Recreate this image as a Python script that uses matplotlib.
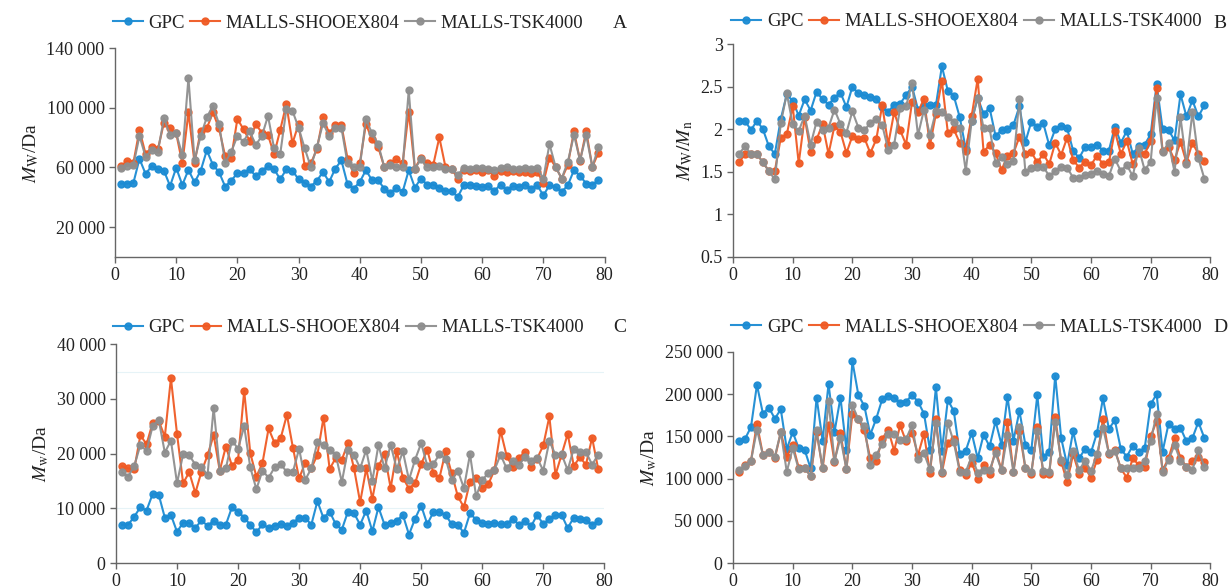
import numpy as np
import matplotlib
matplotlib.use("Agg")
import matplotlib.pyplot as plt
from matplotlib.ticker import FuncFormatter

# sample numbers 1..79
samples = np.arange(1, 80)
series_names = ["GPC", "MALLS-SHOOEX804", "MALLS-TSK4000"]

# A: Mw (x1000 Da)
a_gpc = [49.2, 49.2, 49.6, 65.8, 55.7, 61.0, 58.7, 57.8, 47.6, 59.8,
         48.3, 58.4, 50.0, 57.8, 71.5, 61.8, 56.9, 47.2, 51.2, 56.2,
         56.2, 58.9, 54.2, 57.8, 60.9, 58.9, 52.1, 58.7, 57.8, 52.1,
         49.7, 47.2, 51.2, 57.0, 50.3, 59.3, 64.7, 48.8, 45.8, 50.3,
         58.2, 51.5, 51.5, 45.8, 42.9, 46.5, 43.6, 58.2, 46.5, 52.6,
         48.5, 48.5, 46.5, 44.3, 44.3, 40.2, 48.1, 48.5, 47.4, 47.0,
         47.4, 44.3, 48.5, 44.7, 47.4, 47.0, 48.5, 45.8, 48.1, 41.3,
         48.1, 47.0, 43.6, 48.1, 58.2, 54.4, 49.2, 48.5, 51.5]
a_shoo = [60.9, 64.3, 63.1, 85.2, 69.0, 73.5, 72.1, 90.1, 86.3, 83.0,
          62.7, 96.9, 63.1, 84.7, 86.3, 96.9, 86.3, 67.6, 66.7, 92.6,
          85.6, 78.0, 89.0, 83.4, 81.8, 68.8, 85.2, 102.5, 76.2, 89.2,
          60.9, 62.7, 72.4, 93.7, 83.0, 88.5, 88.5, 66.0, 56.0, 62.7,
          89.2, 78.9, 73.9, 60.4, 62.7, 65.4, 62.7, 97.5, 59.3, 66.7,
          62.7, 61.6, 80.2, 60.4, 59.3, 52.6, 58.2, 57.8, 58.2, 57.1,
          58.2, 54.2, 57.8, 57.1, 57.8, 57.1, 57.1, 56.4, 57.1, 49.7,
          66.7, 60.4, 52.6, 61.6, 84.5, 64.5, 84.5, 60.4, 69.9]
a_tsk = [59.8, 61.1, 61.6, 81.1, 67.2, 71.7, 70.6, 93.0, 81.8, 83.0,
         68.3, 120.0, 64.9, 81.1, 93.7, 101.3, 89.2, 63.1, 70.6, 81.1,
         77.3, 84.5, 75.1, 81.1, 94.6, 72.8, 69.0, 99.1, 98.0, 86.7,
         72.8, 60.4, 73.9, 89.7, 81.1, 86.3, 86.7, 62.7, 60.4, 60.4,
         92.4, 83.0, 75.7, 60.4, 61.6, 60.4, 60.4, 111.7, 59.3, 65.4,
         60.4, 60.4, 60.9, 59.3, 59.3, 54.8, 59.8, 59.3, 59.8, 59.8,
         59.3, 58.2, 59.8, 60.4, 59.3, 59.3, 59.8, 59.3, 59.8, 52.6,
         75.7, 60.4, 52.6, 63.8, 81.8, 64.9, 81.8, 60.4, 73.5]

# B: Mw/Mn
b_gpc = [2.10, 2.10, 1.99, 2.10, 2.00, 1.80, 1.71, 2.12, 2.41, 2.33,
         2.16, 2.35, 2.22, 2.44, 2.35, 2.29, 2.37, 2.43, 2.26, 2.50,
         2.42, 2.40, 2.38, 2.36, 2.26, 2.20, 2.29, 2.30, 2.40, 2.50,
         2.23, 2.27, 2.28, 2.28, 2.74, 2.45, 2.39, 2.14, 1.77, 2.10,
         2.37, 2.18, 2.25, 1.92, 1.99, 2.00, 2.05, 2.27, 1.85, 2.09,
         2.03, 2.07, 1.81, 2.00, 2.04, 2.01, 1.75, 1.66, 1.79, 1.79,
         1.82, 1.75, 1.75, 2.03, 1.84, 1.98, 1.71, 1.80, 1.82, 1.94,
         2.53, 2.00, 1.99, 1.87, 2.41, 2.15, 2.34, 2.15, 2.28]
b_shoo = [1.61, 1.71, 1.71, 1.71, 1.61, 1.51, 1.51, 1.90, 1.94, 2.27,
          1.60, 2.14, 1.73, 1.88, 2.06, 1.71, 2.04, 1.97, 1.72, 1.92,
          1.88, 1.90, 1.72, 1.88, 2.28, 1.82, 2.20, 1.99, 1.82, 2.32,
          2.20, 2.36, 1.81, 2.18, 2.57, 1.96, 2.00, 1.84, 1.75, 2.16,
          2.59, 1.73, 1.82, 1.72, 1.52, 1.69, 1.72, 1.91, 1.71, 1.73,
          1.61, 1.71, 1.59, 1.84, 1.70, 1.90, 1.64, 1.55, 1.62, 1.58,
          1.69, 1.59, 1.61, 1.98, 1.71, 1.86, 1.59, 1.72, 1.71, 1.86,
          2.49, 1.75, 1.79, 1.64, 1.85, 1.61, 1.84, 1.71, 1.63]
b_tsk = [1.71, 1.80, 1.71, 1.71, 1.61, 1.51, 1.41, 2.07, 2.42, 2.06,
         1.98, 2.16, 1.82, 2.09, 1.99, 2.02, 2.23, 2.06, 1.96, 2.21,
         2.02, 1.99, 2.07, 2.12, 2.05, 1.76, 1.82, 2.25, 2.27, 2.54,
         1.93, 2.23, 1.93, 2.21, 2.20, 2.14, 2.09, 2.02, 1.51, 2.10,
         2.37, 2.01, 2.01, 1.60, 1.67, 1.59, 1.63, 2.35, 1.50, 1.55,
         1.56, 1.56, 1.45, 1.51, 1.56, 1.55, 1.43, 1.43, 1.46, 1.48,
         1.51, 1.47, 1.45, 1.65, 1.51, 1.58, 1.45, 1.78, 1.52, 1.62,
         2.37, 1.73, 1.84, 1.50, 2.14, 1.59, 2.20, 1.66, 1.42]

# C: Mw (x1000 Da)
c_gpc = [7.0, 7.0, 8.5, 10.2, 9.6, 12.6, 12.5, 8.3, 8.8, 5.7,
         7.4, 7.3, 6.4, 7.8, 6.8, 7.7, 7.0, 7.0, 10.2, 9.4,
         8.3, 7.0, 5.6, 7.1, 6.4, 6.8, 7.1, 6.8, 7.3, 8.3,
         8.3, 7.0, 11.3, 8.2, 9.4, 7.1, 6.1, 9.4, 9.1, 7.0,
         9.6, 5.8, 10.2, 7.0, 7.3, 7.7, 8.8, 5.2, 8.1, 10.5,
         7.1, 9.3, 9.3, 8.8, 7.1, 7.0, 5.5, 9.1, 7.9, 7.3,
         7.1, 7.3, 7.1, 7.1, 8.1, 7.0, 7.7, 6.7, 8.8, 7.1,
         8.1, 8.7, 8.8, 6.4, 8.3, 8.1, 7.9, 7.0, 7.7]
c_shoo = [17.7, 17.3, 17.2, 23.4, 21.7, 25.6, 26.0, 23.1, 33.8, 23.6,
          14.6, 16.6, 12.8, 16.7, 19.7, 23.4, 16.9, 21.3, 17.8, 18.9,
          31.5, 20.1, 15.8, 18.3, 24.6, 21.9, 22.9, 27.1, 21.0, 15.5,
          18.3, 17.3, 19.8, 26.6, 17.2, 19.2, 18.9, 21.9, 17.3, 11.1,
          17.3, 11.7, 17.7, 19.9, 13.7, 20.4, 15.6, 13.6, 14.6, 18.1,
          20.7, 16.4, 15.6, 20.4, 16.4, 12.2, 10.2, 14.9, 15.6, 13.7,
          14.4, 17.0, 24.2, 19.6, 17.5, 19.2, 20.3, 17.5, 19.1, 21.5,
          26.8, 16.1, 19.8, 23.6, 17.8, 19.3, 18.0, 22.9, 17.2]
c_tsk = [16.6, 15.8, 17.8, 21.6, 20.5, 25.0, 26.2, 20.2, 22.4, 14.6,
         19.9, 19.7, 18.0, 17.5, 16.1, 28.4, 16.9, 17.3, 22.4, 20.9,
         25.0, 17.5, 13.5, 16.9, 15.6, 17.5, 18.1, 16.6, 16.7, 20.9,
         15.2, 17.3, 22.2, 21.5, 20.7, 19.8, 14.8, 20.7, 19.8, 17.3,
         20.7, 15.0, 21.6, 17.3, 21.6, 17.2, 20.4, 15.2, 18.9, 21.9,
         17.8, 18.1, 19.9, 19.1, 15.2, 16.9, 13.7, 19.9, 12.2, 15.2,
         16.4, 17.0, 19.8, 17.3, 18.7, 18.0, 19.3, 18.6, 19.2, 16.9,
         22.3, 19.8, 19.9, 17.0, 20.9, 20.3, 20.3, 18.0, 19.8]

# D: Mw (x1000 Da)
d_gpc = [144, 147, 161, 211, 177, 184, 171, 182, 135, 155,
         136, 134, 112, 196, 145, 212, 155, 196, 134, 239,
         199, 186, 152, 171, 194, 198, 196, 190, 191, 199,
         191, 177, 134, 208, 133, 193, 180, 129, 133, 154,
         124, 152, 138, 168, 140, 197, 145, 180, 140, 134,
         199, 126, 132, 222, 148, 116, 156, 124, 135, 131,
         154, 195, 159, 169, 135, 126, 139, 132, 136, 188,
         200, 132, 165, 159, 160, 144, 148, 167, 148]
d_shoo = [108, 116, 121, 165, 128, 132, 124, 155, 126, 140,
          113, 113, 103, 155, 112, 164, 120, 154, 111, 177,
          170, 157, 124, 121, 147, 158, 133, 163, 144, 154,
          128, 153, 107, 170, 107, 142, 147, 110, 104, 119,
          100, 116, 106, 134, 110, 167, 108, 156, 112, 106,
          161, 106, 106, 173, 120, 96, 129, 106, 113, 101,
          122, 171, 129, 134, 112, 101, 124, 116, 114, 150,
          168, 110, 124, 148, 124, 114, 121, 125, 120]
d_tsk = [110, 115, 121, 158, 128, 132, 126, 155, 108, 136,
         111, 112, 103, 157, 112, 192, 121, 148, 111, 187,
         170, 162, 116, 128, 141, 153, 153, 146, 147, 163,
         123, 130, 111, 166, 108, 166, 143, 108, 108, 126,
         107, 110, 110, 130, 110, 152, 108, 161, 113, 108,
         156, 109, 108, 167, 122, 104, 133, 110, 121, 109,
         129, 160, 130, 133, 112, 112, 113, 112, 121, 144,
         177, 108, 122, 140, 121, 114, 110, 134, 114]

colors = ["#1b8bd3", "#ef5a24", "#8e8e8e"]


def thousands(v, pos):
    return f"{int(round(v)):,}".replace(",", " ")


def plain(v, pos):
    return f"{v:g}"


def draw_panel(fig, rect, series, scale, ylim, yticks, ylabel, letter, legend_y, letter_x, fmt=thousands):
    ax = fig.add_axes(rect)
    for vals, name, c in zip(series, series_names, colors):
        ax.plot(samples, np.asarray(vals) * scale, color=c, lw=1.5, marker="o",
                ms=5, label=name, alpha=0.95)
    ax.set_xlim(0, 80)
    ax.set_ylim(*ylim)
    ax.set_xticks(range(0, 81, 10))
    ax.set_yticks(yticks)
    ax.yaxis.set_major_formatter(FuncFormatter(fmt))
    for side in ["top", "right"]:
        ax.spines[side].set_visible(False)
    for side in ["left", "bottom"]:
        ax.spines[side].set_color("#666666")
        ax.spines[side].set_linewidth(1.0)
    ax.tick_params(direction="out", length=4, width=1.0, color="#666666",
                   labelsize=13, labelcolor="#222222")
    ax.set_ylabel(ylabel, fontsize=14, color="#222222")
    ax.legend(loc="center", bbox_to_anchor=(legend_y[0], legend_y[1]), ncol=3, frameon=False,
              fontsize=13.5, handlelength=1.6, handletextpad=0.3, columnspacing=0.3,
              borderaxespad=0, labelcolor="#222222")
    fig.text(letter_x / 1230, 1 - legend_y[2] / 588, letter, fontsize=14,
             ha="center", va="center", color="#222222")
    return ax


def main():
    plt.rcParams["font.family"] = ["Liberation Serif", "DejaVu Serif"]
    plt.rcParams["mathtext.fontset"] = "stix"

    fig = plt.figure(figsize=(12.3, 5.88), dpi=100)

    draw_panel(fig, [0.0935, 0.563, 0.398, 0.355], [a_gpc, a_shoo, a_tsk], 1000,
               (0, 140000), [20000, 60000, 100000, 140000],
               r"$M_{\rm W}$/Da", "A", (0.476, 1.12, 23), 620)
    draw_panel(fig, [0.596, 0.563, 0.388, 0.362], [b_gpc, b_shoo, b_tsk], 1,
               (0.5, 3), [0.5, 1, 1.5, 2, 2.5, 3],
               r"$M_{\rm W}/M_{\rm n}$", "B", (0.49, 1.105, 23), 1220, fmt=plain)
    ax_c = draw_panel(fig, [0.0943, 0.0425, 0.397, 0.372], [c_gpc, c_shoo, c_tsk], 1000,
                      (0, 40000), [0, 10000, 20000, 30000, 40000],
                      r"$M_{\rm w}$/Da", "C", (0.476, 1.075, 328), 620)
    # faint guide lines visible in panel C
    for yv in [10000, 35000]:
        ax_c.axhline(yv, color="#e6f3f7", lw=0.8, zorder=0)
    draw_panel(fig, [0.596, 0.0425, 0.388, 0.359], [d_gpc, d_shoo, d_tsk], 1000,
               (0, 250000), [0, 50000, 100000, 150000, 200000, 250000],
               r"$M_{\rm w}$/Da", "D", (0.49, 1.118, 327), 1220)

    fig.savefig("out.png", dpi=100)


if __name__ == "__main__":
    main()
